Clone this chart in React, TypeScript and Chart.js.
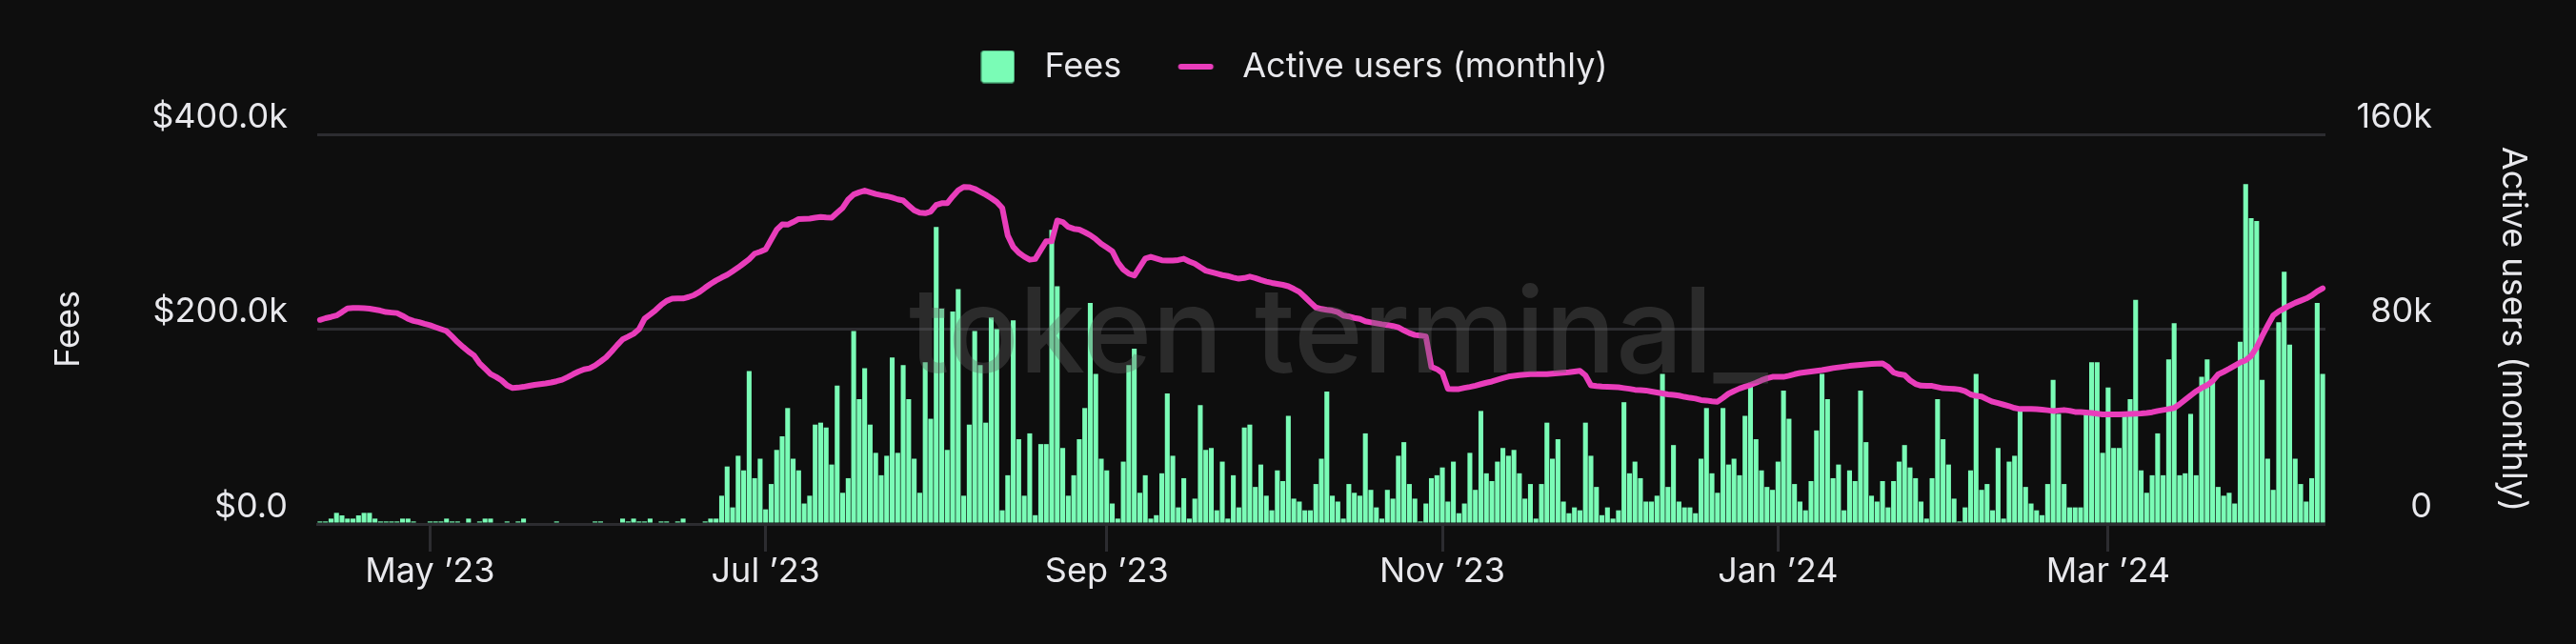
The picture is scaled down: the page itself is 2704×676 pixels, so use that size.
import React, { useEffect, useRef } from 'react';
import { Chart, registerables } from 'chart.js';

Chart.register(...registerables);

// ---- data ----
const START_DATE_UTC = Date.UTC(2023, 3, 11);
const DAY_COUNT = 365;

// Daily fees, thousands of USD
const FEES_K: number[] = [
  2.6, 2.6, 5.5, 11.4, 8.8, 5.5, 5.5, 8.8, 11.4, 11.4,
  5.5, 2.6, 2.6, 2.6, 2.6, 5.5, 5.5, 2.6, 0, 0,
  2.6, 2.6, 2.6, 5.5, 2.6, 2.6, 0, 5.5, 0, 2.6,
  5.5, 5.5, 0, 0, 2.6, 0, 2.6, 5.5, 0, 0,
  0, 0, 0, 2.6, 0, 0, 0, 0, 0, 0,
  2.6, 2.6, 0, 0, 0, 5.5, 2.6, 5.5, 2.6, 2.6,
  5.5, 0, 2.6, 2.6, 0, 2.6, 5.5, 0, 0, 0,
  2.6, 5.5, 5.5, 29, 59, 17, 70, 55, 157, 47,
  67, 15, 41, 76, 90, 119, 67, 55, 21, 29,
  102, 104, 99, 61, 142, 32, 47, 198, 128, 160,
  102, 73, 50, 70, 171, 73, 163, 128, 67, 32,
  166, 108, 305, 221, 76, 218, 241, 29, 102, 198,
  163, 104, 212, 200, 14, 50, 209, 87, 29, 93,
  9, 82, 82, 302, 244, 78, 29, 50, 87, 119,
  227, 154, 67, 55, 21, 5.5, 64, 163, 180, 32,
  50, 5.5, 9, 52, 134, 70, 17, 47, 5.5, 26,
  122, 76, 78, 14, 64, 5.5, 50, 17, 99, 102,
  38, 61, 29, 14, 55, 44, 111, 26, 23, 14,
  14, 41, 67, 136, 29, 23, 5.5, 41, 32, 29,
  93, 35, 17, 5.5, 35, 26, 70, 84, 41, 26,
  2.6, 21, 47, 50, 58, 23, 64, 11, 21, 73,
  35, 116, 52, 44, 64, 78, 70, 76, 52, 26,
  41, 5.5, 41, 104, 67, 87, 23, 11, 17, 14,
  104, 70, 38, 9, 17, 5.5, 14, 125, 52, 64,
  47, 23, 23, 29, 154, 38, 81, 23, 17, 17,
  11, 67, 119, 52, 32, 119, 61, 67, 50, 111,
  145, 87, 55, 38, 35, 64, 137, 108, 41, 23,
  14, 44, 96, 154, 128, 47, 61, 14, 55, 44,
  137, 84, 29, 23, 44, 17, 44, 64, 81, 58,
  47, 23, 5.5, 47, 128, 87, 61, 26, 2.6, 17,
  55, 154, 35, 41, 14, 78, 5.5, 64, 70, 116,
  38, 21, 14, 9, 41, 148, 113, 41, 17, 17,
  17, 114, 166, 166, 73, 140, 78, 78, 113, 128,
  230, 55, 32, 50, 93, 50, 169, 206, 50, 52,
  113, 50, 151, 169, 148, 38, 29, 32, 21, 187,
  349, 314, 311, 148, 67, 35, 207, 259, 184, 67,
  41, 23, 47, 227, 154,
];

// Monthly active users, thousands
const ACTIVE_USERS_K: number[] = [
  83.8, 84.5, 85.0, 85.6, 87.0, 88.5, 88.7, 88.7, 88.6, 88.4,
  88.0, 87.6, 87.0, 86.8, 86.6, 85.5, 84.2, 83.4, 82.9, 82.2,
  81.6, 80.8, 80.0, 79.2, 77.0, 74.7, 72.7, 70.8, 69.2, 66.0,
  63.8, 61.6, 60.4, 59.0, 56.9, 55.8, 56.0, 56.3, 56.7, 57.1,
  57.4, 57.7, 58.1, 58.6, 59.2, 60.3, 61.5, 62.6, 63.5, 63.9,
  65.1, 66.7, 68.4, 70.8, 73.4, 75.8, 76.9, 78.1, 80.0, 84.3,
  86.0, 87.8, 89.9, 91.6, 92.5, 92.6, 92.6, 93.2, 94.0, 95.3,
  97.0, 98.6, 100.0, 101.2, 102.3, 103.8, 105.3, 107.0, 108.7, 111.0,
  111.8, 112.8, 116.8, 120.8, 123.0, 122.9, 124.0, 125.2, 125.3, 125.4,
  125.8, 126.1, 125.9, 125.8, 127.8, 129.8, 133.2, 135.3, 136.2, 136.9,
  136.2, 135.5, 135.0, 134.6, 134.0, 133.3, 132.8, 130.8, 128.8, 127.8,
  127.6, 128.3, 131.0, 131.7, 131.7, 134.5, 137.0, 138.4, 138.3, 137.6,
  136.4, 135.2, 133.8, 132.2, 129.8, 118.5, 113.8, 111.4, 109.8, 108.5,
  108.8, 112.5, 116.1, 116.1, 124.6, 124.0, 122.0, 121.2, 120.9, 119.8,
  118.6, 117.0, 115.0, 113.5, 112.0, 107.5, 104.5, 102.8, 102.0, 105.5,
  109.0, 109.7, 109.0, 108.3, 108.2, 108.2, 108.4, 108.9, 107.8, 106.9,
  105.4, 104.0, 103.4, 102.8, 102.2, 101.8, 101.2, 100.7, 101.0, 101.6,
  101.0, 100.2, 99.5, 99.0, 98.6, 98.2, 97.6, 96.5, 95.3, 93.2,
  91.0, 88.9, 88.3, 87.9, 87.6, 87.0, 85.6, 85.2, 84.6, 84.2,
  83.2, 82.8, 82.4, 82.0, 81.7, 81.3, 80.7, 79.5, 78.4, 77.6,
  77.4, 77.0, 64.5, 63.6, 62.0, 55.5, 55.4, 55.4, 55.9, 56.3,
  56.8, 57.4, 58.0, 58.5, 59.2, 59.9, 60.5, 60.8, 61.1, 61.3,
  61.5, 61.5, 61.5, 61.5, 61.7, 61.9, 62.1, 62.3, 62.6, 62.9,
  61.0, 56.9, 56.6, 56.4, 56.3, 56.2, 56.1, 55.8, 55.5, 55.1,
  55.0, 54.8, 54.4, 54.0, 53.6, 53.2, 53.0, 52.7, 52.2, 51.8,
  51.5, 50.9, 50.7, 50.4, 50.2, 51.8, 53.5, 54.6, 55.6, 56.4,
  57.1, 58.0, 59.0, 59.8, 60.4, 60.4, 60.4, 60.9, 61.5, 62.0,
  62.3, 62.6, 62.9, 63.2, 63.6, 64.0, 64.3, 64.6, 64.9, 65.1,
  65.3, 65.5, 65.7, 65.8, 65.9, 64.5, 62.2, 61.5, 61.1, 59.0,
  57.5, 56.8, 56.7, 56.7, 56.2, 55.7, 55.6, 55.5, 55.2, 54.5,
  53.2, 52.6, 52.3, 51.2, 50.2, 49.6, 49.0, 48.4, 47.6, 47.2,
  47.2, 47.2, 47.1, 46.9, 46.7, 46.4, 46.6, 46.8, 46.5, 46.0,
  46.0, 45.8, 45.6, 45.3, 45.0, 45.0, 45.0, 45.0, 45.1, 45.2,
  45.3, 45.4, 45.6, 45.9, 46.4, 46.8, 47.2, 47.6, 49.2, 51.0,
  52.8, 54.5, 55.9, 57.0, 58.7, 61.4, 62.5, 63.7, 65.0, 66.3,
  67.2, 69.0, 72.5, 77.2, 81.5, 85.6, 87.3, 88.5, 89.7, 90.8,
  91.7, 92.6, 93.8, 95.5, 96.8,
];

const FEES_AXIS_RANGE = [0, 400];
const FEES_AXIS_STEP = 200;
const USERS_AXIS_RANGE = [0, 160];
const USERS_AXIS_STEP = 80;
const MONTH_NAMES = ['Jan', 'Feb', 'Mar', 'Apr', 'May', 'Jun', 'Jul', 'Aug', 'Sep', 'Oct', 'Nov', 'Dec'];
const LABELED_MONTHS = [0, 2, 4, 6, 8, 10];

// ---- style ----
const BG = 'rgb(14,14,14)';
const BAR_COLOR = 'rgb(122,252,182)';
const LINE_COLOR = 'rgb(233,61,187)';
const GRID_COLOR = 'rgb(44,44,48)';
const TEXT_COLOR = 'rgb(232,232,236)';
const FONT_FAMILY = 'Inter';
const FONT_SIZE = 36;

function buildDates(): string[] {
  const out: string[] = [];
  for (let i = 0; i < DAY_COUNT; i++) {
    out.push(new Date(START_DATE_UTC + i * 86400000).toISOString().slice(0, 10));
  }
  return out;
}

function monthLabel(iso: string | undefined): string | null {
  if (!iso) return null;
  const [y, m, d] = iso.split('-').map(Number);
  if (d !== 1 || !LABELED_MONTHS.includes(m - 1)) return null;
  return `${MONTH_NAMES[m - 1]} \u2019${String(y).slice(2)}`;
}

const watermarkPlugin = {
  id: 'ttWatermark',
  afterDatasetsDraw(chart: any) {
    const { ctx, chartArea } = chart;
    ctx.save();
    ctx.font = `500 124px ${FONT_FAMILY}`;
    ctx.fillStyle = 'rgba(96,96,96,0.36)';
    ctx.textAlign = 'center';
    ctx.textBaseline = 'alphabetic';
    ctx.fillText('token terminal_', (chartArea.left + chartArea.right) / 2 + 18, chartArea.top + 250);
    ctx.restore();
  },
};

export default function App() {
  const canvasRef = useRef<HTMLCanvasElement | null>(null);

  useEffect(() => {
    document.body.style.margin = '0';
    document.body.style.background = BG;
    const canvas = canvasRef.current;
    if (!canvas) return;

    const barIcon = document.createElement('canvas');
    barIcon.width = 36;
    barIcon.height = 35;
    const bctx = barIcon.getContext('2d')!;
    bctx.fillStyle = BAR_COLOR;
    bctx.beginPath();
    (bctx as any).roundRect(0.5, 0.5, 35, 34, 3);
    bctx.fill();
    bctx.strokeStyle = 'rgba(40,110,75,0.6)';
    bctx.lineWidth = 1;
    bctx.stroke();

    const lineIcon = document.createElement('canvas');
    lineIcon.width = 40;
    lineIcon.height = 8;
    const lctx = lineIcon.getContext('2d')!;
    lctx.strokeStyle = LINE_COLOR;
    lctx.lineWidth = 6;
    lctx.lineCap = 'round';
    lctx.beginPath();
    lctx.moveTo(4.5, 4);
    lctx.lineTo(35.5, 4);
    lctx.stroke();

    const dates = buildDates();
    const isLabeled = (i: number) => monthLabel(dates[i]) !== null;
    const font = { family: FONT_FAMILY, size: FONT_SIZE, weight: 400 as any };

    const chart = new Chart(canvas, {
      data: {
        labels: dates,
        datasets: [
          {
            type: 'bar',
            label: 'Fees',
            data: FEES_K,
            xAxisID: 'x',
            yAxisID: 'y',
            backgroundColor: BAR_COLOR,
            borderWidth: 0,
            barPercentage: 0.88,
            categoryPercentage: 1,
            order: 1,
          },
          {
            type: 'line',
            label: 'Active users (monthly)',
            data: ACTIVE_USERS_K,
            xAxisID: 'x',
            yAxisID: 'y1',
            borderColor: LINE_COLOR,
            backgroundColor: LINE_COLOR,
            borderWidth: 6,
            pointRadius: 0,
            tension: 0,
            borderJoinStyle: 'round',
            borderCapStyle: 'round',
            order: 0,
          },
        ] as any,
      },
      options: {
        responsive: false,
        animation: false,
        devicePixelRatio: 1,
        events: [],
        layout: { padding: { top: 5, left: 0, right: 0, bottom: 0 } },
        plugins: {
          tooltip: { enabled: false },
          legend: {
            display: true,
            position: 'top',
            align: 'center',
            labels: {
              color: TEXT_COLOR,
              font,
              usePointStyle: true,
              pointStyleWidth: 62,
              boxHeight: 36,
              padding: 47,
              generateLabels: (c: any) => {
                const base = (Chart.defaults as any).plugins.legend.labels.generateLabels(c);
                return base
                  .sort((a: any, b: any) => a.datasetIndex - b.datasetIndex)
                  .map((item: any) => ({
                    ...item,
                    pointStyle: item.datasetIndex === 0 ? barIcon : lineIcon,
                    lineWidth: 0,
                  }));
              },
            },
          },
        },
        scales: {
          x: {
            type: 'category',
            position: 'bottom',
            offset: true,
            grid: {
              display: true,
              drawOnChartArea: false,
              drawTicks: true,
              tickLength: 29,
              offset: false,
              color: (ctx: any) => (isLabeled(ctx.index) ? GRID_COLOR : 'rgba(0,0,0,0)'),
              lineWidth: (ctx: any) => (isLabeled(ctx.index) ? 3 : 0),
            },
            border: { display: true, color: GRID_COLOR, width: 3 },
            ticks: {
              autoSkip: false,
              maxRotation: 0,
              minRotation: 0,
              padding: 0,
              color: TEXT_COLOR,
              font,
              callback: (_v: any, index: number) => monthLabel(dates[index]) ?? '',
            },
            afterFit: (s: any) => {
              s.height = 126;
            },
          },
          xTop: {
            type: 'linear',
            position: 'top',
            display: true,
            grid: { display: false },
            border: { display: false },
            ticks: { display: false },
            afterFit: (s: any) => {
              s.height = 43;
            },
          },
          y: {
            type: 'linear',
            position: 'left',
            min: FEES_AXIS_RANGE[0],
            max: FEES_AXIS_RANGE[1],
            grid: { color: GRID_COLOR, lineWidth: 3, drawTicks: false },
            border: { display: false },
            ticks: {
              stepSize: FEES_AXIS_STEP,
              padding: 31,
              labelOffset: -18,
              color: TEXT_COLOR,
              font,
              callback: (v: any) => (Number(v) === 0 ? '$0.0' : `$${Number(v).toFixed(1)}k`),
            },
            title: {
              display: true,
              text: 'Fees',
              color: TEXT_COLOR,
              font,
              padding: { top: 51, bottom: 0 },
            },
            afterFit: (s: any) => {
              s.width = 333;
            },
          },
          y1: {
            type: 'linear',
            position: 'right',
            weight: 0,
            min: USERS_AXIS_RANGE[0],
            max: USERS_AXIS_RANGE[1],
            grid: { display: false },
            border: { display: false },
            ticks: {
              stepSize: USERS_AXIS_STEP,
              crossAlign: 'far',
              labelOffset: -18,
              color: TEXT_COLOR,
              font,
              callback: (v: any) => (Number(v) === 0 ? '0' : `${v}k`),
            },
            afterFit: (s: any) => {
              s.width = 112;
            },
          },
          yT: {
            type: 'linear',
            position: 'right',
            weight: 10,
            display: true,
            grid: { display: false },
            border: { display: false },
            ticks: { display: false },
            title: {
              display: true,
              text: 'Active users (monthly)',
              color: TEXT_COLOR,
              font,
              padding: { top: 45, bottom: 0 },
            },
            afterFit: (s: any) => {
              s.width = 151;
            },
          },
        } as any,
      },
      plugins: [watermarkPlugin],
    } as any);

    return () => {
      chart.destroy();
    };
  }, []);

  return (
    <div style={{ position: 'fixed', left: 0, top: 0, width: 2704, height: 676, background: BG }}>
      <canvas ref={canvasRef} width={2704} height={676} style={{ display: 'block', width: 2704, height: 676 }} />
    </div>
  );
}
